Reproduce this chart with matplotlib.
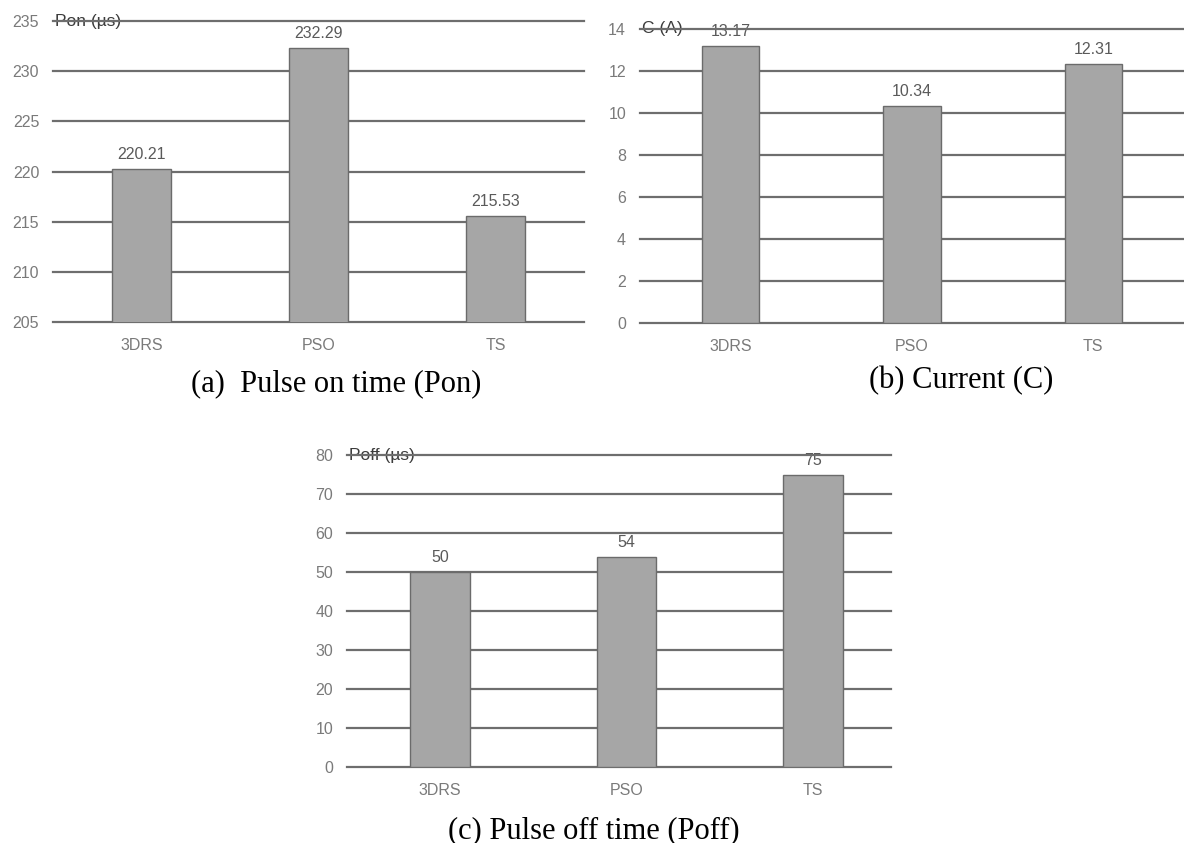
import matplotlib.pyplot as plt
import numpy as np

methods = ["3DRS", "PSO", "TS"]

pon = [220.21, 232.29, 215.53]
current = [13.17, 10.34, 12.31]
poff = [50, 54, 75]

pon_ticks = [205, 210, 215, 220, 225, 230, 235]
current_ticks = [0, 2, 4, 6, 8, 10, 12, 14]
poff_ticks = [0, 10, 20, 30, 40, 50, 60, 70, 80]

units = ["Pon (µs)", "C (A)", "Poff (µs)"]
captions = ["(a)  Pulse on time (Pon)", "(b) Current (C)",
            "(c) Pulse off time (Poff)"]

BAR = "#a6a6a6"
EDGE = "#6b6b6b"
GRID = "#6e6e6e"
TICK = "#7a7a7a"
SANS = "Liberation Sans"
SERIF = "Liberation Serif"


def draw_panel(ax, values, ticks, unit, xmax, width):
    x = np.arange(len(methods))

    for t in ticks:
        ax.axhline(t, color=GRID, lw=1.6, zorder=1, clip_on=False)

    # bars start at zero, the y-limits cut them off for the Pon panel
    ax.bar(x, values, width=width, color=BAR, edgecolor=EDGE, lw=1.0,
           zorder=2)

    for xi, v in zip(x, values):
        ax.annotate(f"{v:g}", (xi, v), xytext=(0, 10.5),
                    textcoords="offset points", ha="center", va="center",
                    fontsize=11.5, family=SANS, color="#5a5a5a", zorder=0.5)

    ax.text(0.004, ticks[-1], unit, transform=ax.get_yaxis_transform(),
            ha="left", va="center", fontsize=12.5, family=SANS,
            color="#3c3c3c", zorder=0.5)

    ax.set_xlim(-0.5, xmax)
    ax.set_ylim(ticks[0], ticks[-1])
    ax.set_xticks(x, methods)
    ax.set_yticks(ticks)
    ax.tick_params(length=0, labelsize=11.5, labelcolor=TICK)
    ax.tick_params(axis="x", pad=11.5)
    ax.tick_params(axis="y", pad=10)
    for lab in ax.get_xticklabels() + ax.get_yticklabels():
        lab.set_family(SANS)
    for spine in ax.spines.values():
        spine.set_visible(False)
    ax.patch.set_alpha(0)


fig = plt.figure(figsize=(11.84, 8.43), dpi=100)

ax_a = fig.add_axes([0.0448, 0.618, 0.4484, 0.357])
ax_b = fig.add_axes([0.5405, 0.6168, 0.4595, 0.3488])
ax_c = fig.add_axes([0.2931, 0.0896, 0.4594, 0.3701])

draw_panel(ax_a, pon, pon_ticks, units[0], 2.5, 0.33)
draw_panel(ax_b, current, current_ticks, units[1], 2.5, 0.315)
draw_panel(ax_c, poff, poff_ticks, units[2], 2.42, 0.32)

fig.text(336 / 1184, 0.5362, captions[0], ha="center", va="baseline",
         fontsize=22, family=SERIF)
fig.text(961 / 1184, 0.5397, captions[1], ha="center", va="baseline",
         fontsize=22, family=SERIF)
fig.text(594 / 1184, 0.0059, captions[2], ha="center", va="baseline",
         fontsize=22, family=SERIF)

fig.savefig("out.png", dpi=100, facecolor="white")
